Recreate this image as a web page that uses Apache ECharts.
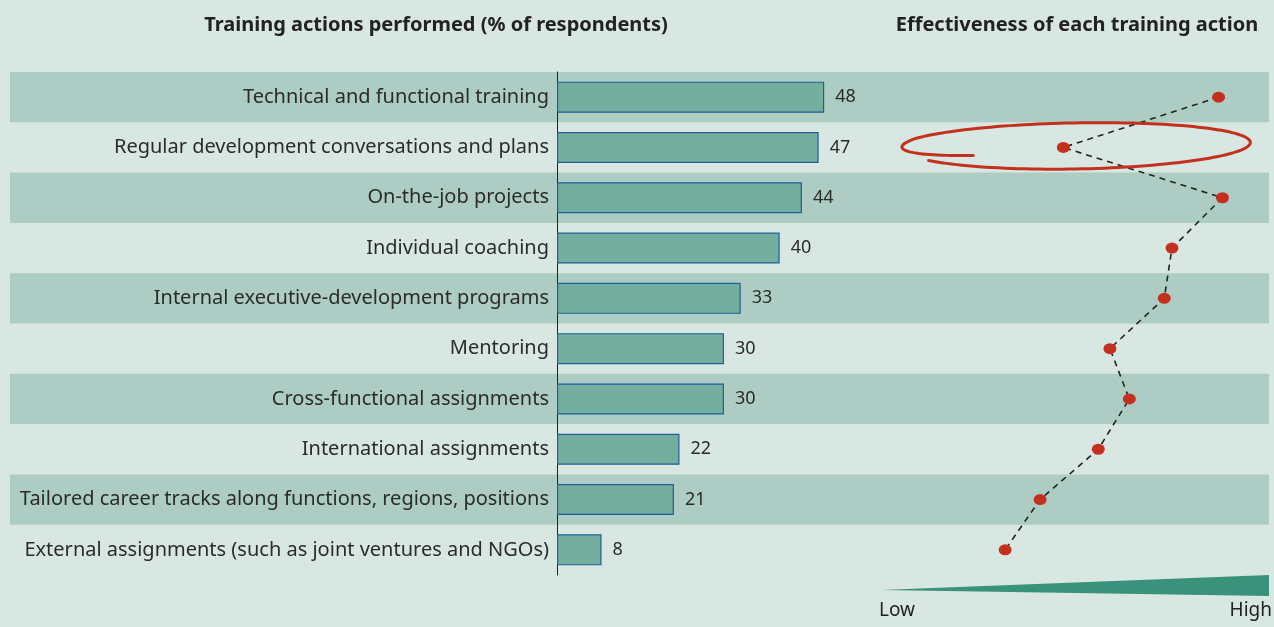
<!DOCTYPE html>
<html>
<head>
<meta charset="utf-8">
<script src="https://cdn.jsdelivr.net/npm/echarts@6/dist/echarts.min.js"></script>
<style>
  html, body { margin: 0; padding: 0; background: #d9e7e2; }
  #chart { width: 1274px; height: 627px; }
</style>
</head>
<body>
<div id="chart"></div>
<script>
// training actions, top to bottom
var categories = [
  'Technical and functional training',
  'Regular development conversations and plans',
  'On-the-job projects',
  'Individual coaching',
  'Internal executive-development programs',
  'Mentoring',
  'Cross-functional assignments',
  'International assignments',
  'Tailored career tracks along functions, regions, positions',
  'External assignments (such as joint ventures and NGOs)'
];
// % of respondents
var shares = [48, 47, 44, 40, 33, 30, 30, 22, 21, 8];
// effectiveness, 0 = low, 100 = high
var effectiveness = [87, 47, 88, 75, 73, 59, 64, 56, 41, 32];
var highlighted = 1; // circled row

var font = 'Noto Sans';
var top0 = 72, rowsH = 503;

var chart = echarts.init(document.getElementById('chart'));

var option = {
  backgroundColor: '#d9e7e2',
  animation: false,
  title: [
    { text: 'Training actions performed (% of respondents)', left: 431, top: 10, textAlign: 'center',
      textStyle: { fontFamily: font, fontSize: 20, fontWeight: 'bold', color: '#222' } },
    { text: 'Effectiveness of each training action', left: 1072, top: 10, textAlign: 'center',
      textStyle: { fontFamily: font, fontSize: 20, fontWeight: 'bold', color: '#222' } }
  ],
  grid: [
    // bands across the whole width
    { left: 10, width: 1259, top: top0, height: rowsH },
    // bars
    { left: 557, width: 334, top: top0, height: rowsH },
    // effectiveness
    { left: 881, width: 388, top: top0, height: rowsH }
  ],
  xAxis: [
    { gridIndex: 0, type: 'value', show: false },
    { gridIndex: 1, type: 'value', min: 0, max: 60, show: false },
    { gridIndex: 2, type: 'value', min: 0, max: 100, show: false }
  ],
  yAxis: [
    { gridIndex: 0, type: 'category', data: categories, inverse: true,
      axisLine: { show: false }, axisTick: { show: false }, axisLabel: { show: false },
      splitArea: { show: true, areaStyle: { color: ['#adcdc4', 'rgba(0,0,0,0)'] } } },
    { gridIndex: 1, type: 'category', data: categories, inverse: true,
      axisLine: { show: true, lineStyle: { color: '#222', width: 1 } },
      axisTick: { show: false },
      axisLabel: { margin: 8, fontFamily: font, fontSize: 20, color: '#2b2b2b' } },
    { gridIndex: 2, type: 'category', data: categories, inverse: true, show: false }
  ],
  series: [
    { type: 'bar', xAxisIndex: 1, yAxisIndex: 1, data: shares, barWidth: 31,
      itemStyle: { color: '#74ae9e', borderColor: '#1d5f96', borderWidth: 1.2 },
      label: { show: true, position: 'right', distance: 11, fontFamily: font, fontSize: 18, color: '#2b2b2b' } },
    { type: 'line', xAxisIndex: 0, yAxisIndex: 0, data: [] },
    { type: 'line', xAxisIndex: 2, yAxisIndex: 2,
      data: effectiveness.map(function (v, i) { return [v, i]; }),
      lineStyle: { color: '#222', width: 1.6, type: [6, 5] },
      symbol: 'circle', symbolSize: [13, 11],
      itemStyle: { color: '#c4301e' }, z: 5 }
  ]
};
chart.setOption(option);

// annotations: wedge legend and hand-drawn ring around the circled point
var p = chart.convertToPixel({ seriesIndex: 2 }, [effectiveness[highlighted], highlighted]);
var cx = p[0] + 12, cy = p[1] - 2.5, rx = 175, ry = 22;
var ring = [];
var n = 160, a0 = 147 / 180 * Math.PI, sweep = 380 / 180 * Math.PI;
for (var k = 0; k <= n; k++) {
  var t = k / n;
  var a = a0 - t * sweep;
  var sy = t < 0.8 ? 1.12 - 0.15 * t / 0.8 : 0.97 - (t - 0.8) / 0.2 * 0.45;
  var sx = t < 0.8 ? 1 : 1 - (t - 0.8) / 0.2 * 0.03;
  ring.push([cx + Math.cos(a) * rx * sx, cy + Math.sin(a) * ry * sy - Math.cos(a) * 2.5]);
}

chart.setOption({
  graphic: [
    { type: 'polyline', shape: { points: ring }, z: 10,
      style: { stroke: '#c4301e', lineWidth: 3, fill: null, lineCap: 'round' } },
    { type: 'polygon', shape: { points: [[881, 590], [1269, 575], [1269, 596]] },
      style: { fill: '#3a927a' } },
    { type: 'text', left: 879, top: 601,
      style: { text: 'Low', fontFamily: font, fontSize: 19, fill: '#222' } },
    { type: 'text', right: 2, top: 601,
      style: { text: 'High', fontFamily: font, fontSize: 19, fill: '#222' } }
  ]
});
</script>
</body>
</html>
